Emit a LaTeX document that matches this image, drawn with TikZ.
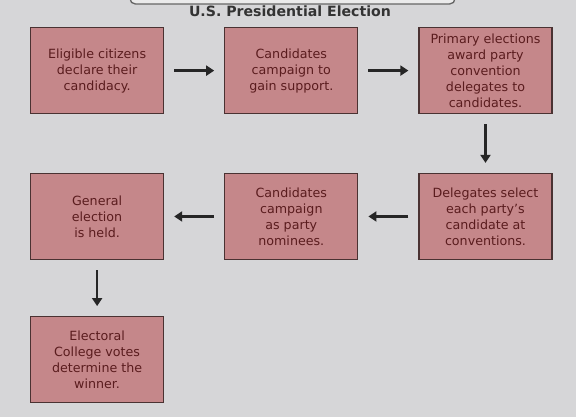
\documentclass[tikz,border=0pt]{standalone}
\usepackage{fontspec}
\setmainfont{DejaVu Sans}
\usetikzlibrary{positioning,arrows.meta}
\definecolor{bgGray}{HTML}{D6D6D8}
\definecolor{boxFill}{HTML}{C5878A}
\definecolor{boxLine}{HTML}{4A3232}
\definecolor{boxText}{HTML}{5A1C1E}
\tikzset{
  stepbox/.style={draw=boxLine,line width=0.9pt,fill=boxFill,text=boxText,align=center,
    minimum width=99.75pt,minimum height=64.5pt,inner sep=3pt,font=\fontsize{9.5}{12}\selectfont},
  arr/.style={-{Triangle[length=6pt,width=7.5pt]},line width=1.8pt,black!85}
}
\begin{document}
\begin{tikzpicture}[x=0.75pt,y=-0.75pt,node distance=44pt and 45pt]
% background and margins
\fill[bgGray] (0,0) rectangle (576,417);
\useasboundingbox (0,0) rectangle (576,417);
% title tab
\draw[black!60,line width=1pt,fill=white!92!black,rounded corners=4pt] (130,-20) rectangle (455,4);
\node[font=\bfseries\fontsize{10.6}{12}\selectfont,text=black!80] (title) at (290,11) {U.S. Presidential Election};
% first row
\node[stepbox,anchor=north west] (declare) at (30,27) {Eligible citizens\\declare their\\candidacy.};
\node[stepbox,right=of declare] (support) {Candidates\\campaign to\\gain support.};
\node[stepbox,right=of support] (primary) {Primary elections\\award party\\convention\\delegates to\\candidates.};
% second row
\node[stepbox,below=of primary] (select) {Delegates select\\each party's\\candidate at\\conventions.};
\node[stepbox,left=of select] (nominee) {Candidates\\campaign\\as party\\nominees.};
\node[stepbox,left=of nominee] (general) {General\\election\\is held.};
% third row
\node[stepbox,below=42pt of general] (college) {Electoral\\College votes\\determine the\\winner.};
\draw[arr] ([xshift=7.5pt]declare.east) -- ([xshift=-7.5pt]support.west);
\draw[arr] ([xshift=7.5pt]support.east) -- ([xshift=-7.5pt]primary.west);
\draw[arr] ([yshift=-7.5pt]primary.south) -- ([yshift=7.5pt]select.north);
\draw[arr] ([xshift=-7.5pt]select.west) -- ([xshift=7.5pt]nominee.east);
\draw[arr] ([xshift=-7.5pt]nominee.west) -- ([xshift=7.5pt]general.east);
\draw[arr] ([yshift=-7.5pt]general.south) -- ([yshift=7.5pt]college.north);
\end{tikzpicture}
\end{document}
